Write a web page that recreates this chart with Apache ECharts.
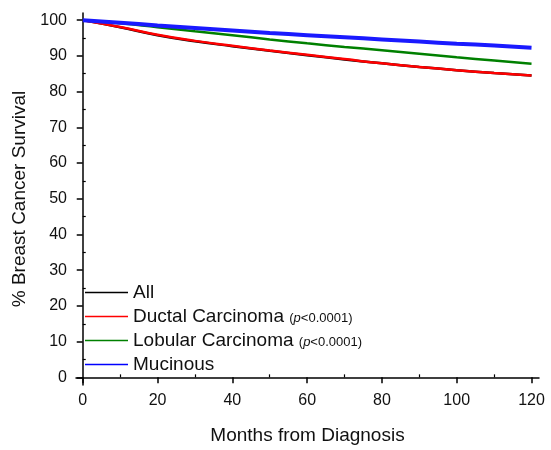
<!DOCTYPE html>
<html>
<head>
<meta charset="utf-8">
<script src="https://cdn.jsdelivr.net/npm/echarts@6/dist/echarts.min.js"></script>
<style>
  html, body { margin: 0; padding: 0; background: #fff; }
  #chart { width: 551px; height: 450px; }
</style>
</head>
<body>
<div id="chart"></div>
<script>
// months since diagnosis
const months = [0, 10, 20, 30, 40, 50, 60, 70, 80, 90, 100, 110, 120];
// % breast cancer survival
const allSurv = [100, 98.0, 95.8, 94.1, 92.7, 91.4, 90.2, 89.0, 87.9, 86.9, 86.0, 85.2, 84.5];
const ductal = [100, 98.1, 95.9, 94.2, 92.8, 91.5, 90.3, 89.1, 87.9, 86.9, 86.0, 85.2, 84.5];
const lobular = [100, 99.1, 98.0, 96.9, 95.8, 94.6, 93.5, 92.5, 91.6, 90.6, 89.6, 88.7, 87.8];
const mucinous = [100, 99.3, 98.5, 97.8, 97.1, 96.4, 95.8, 95.2, 94.6, 94.0, 93.4, 92.9, 92.3];

const xMajor = [0, 20, 40, 60, 80, 100, 120];
const xMinor = [10, 30, 50, 70, 90, 110];
const yMajor = [0, 10, 20, 30, 40, 50, 60, 70, 80, 90, 100];
const yMinor = [5, 15, 25, 35, 45, 55, 65, 75, 85, 95];

const FONT = "Liberation Sans, Arial, sans-serif";
const INK = "#111";

const toPairs = vals => months.map((m, i) => [m, vals[i]]);

const chart = echarts.init(document.getElementById("chart"));

const xBase = { type: "value", min: -1.8, max: 122, gridIndex: 0, splitLine: { show: false } };
const yBase = { type: "value", min: -2.14, max: 102, gridIndex: 0, splitLine: { show: false } };

chart.setOption({
  animation: false,
  textStyle: { fontFamily: FONT },
  grid: { left: 76, right: 12, top: 13, bottom: 63 },
  legend: {
    orient: "vertical",
    left: 85,
    top: 283,
    padding: 0,
    itemWidth: 43,
    itemHeight: 1.5,
    itemGap: 5,
    icon: "rect",
    data: ["All", "Ductal Carcinoma", "Lobular Carcinoma", "Mucinous"],
    formatter: function(name) {
      if (name === "Ductal Carcinoma" || name === "Lobular Carcinoma") {
        return name + " {s|(}{i|p}{s|<0.0001)}";
      }
      return name;
    },
    textStyle: {
      fontSize: 19,
      color: INK,
      fontFamily: FONT,
      rich: {
        s: { fontSize: 13, color: INK, fontFamily: FONT, padding: [4, 0, 0, 0] },
        i: { fontSize: 13, fontStyle: "italic", color: INK, fontFamily: FONT, padding: [4, 0, 0, 0] }
      }
    }
  },
  xAxis: [
    Object.assign({}, xBase, {
      name: "Months from Diagnosis",
      nameLocation: "middle",
      nameGap: 41,
      nameTextStyle: { fontSize: 19, color: INK, fontFamily: FONT },
      axisLine: { show: true, lineStyle: { color: "#000", width: 1.5 } },
      axisTick: { show: true, length: 6, customValues: xMajor, lineStyle: { color: "#000", width: 1.5 } },
      axisLabel: { customValues: xMajor, fontSize: 16, color: INK, margin: 8, fontFamily: FONT }
    }),
    Object.assign({}, xBase, {
      axisLine: { show: false },
      axisTick: { show: true, length: 3, customValues: xMinor, lineStyle: { color: "#000", width: 1.2 } },
      axisLabel: { show: false }
    })
  ],
  yAxis: [
    Object.assign({}, yBase, {
      name: "% Breast Cancer Survival",
      nameLocation: "middle",
      nameGap: 44,
      nameTextStyle: { fontSize: 19, color: INK, fontFamily: FONT },
      axisLine: { show: true, lineStyle: { color: "#000", width: 1.5 } },
      axisTick: { show: true, length: 6, customValues: yMajor, lineStyle: { color: "#000", width: 1.5 } },
      axisLabel: { customValues: yMajor, fontSize: 16, color: INK, margin: 9, fontFamily: FONT }
    }),
    Object.assign({}, yBase, {
      axisLine: { show: false },
      axisTick: { show: true, length: 3, customValues: yMinor, lineStyle: { color: "#000", width: 1.2 } },
      axisLabel: { show: false }
    })
  ],
  series: [
    {
      name: "All", type: "line", smooth: true, symbol: "none",
      data: toPairs(allSurv), color: "#000",
      lineStyle: { width: 2.5, color: "#000" }, z: 2
    },
    {
      name: "Ductal Carcinoma", type: "line", smooth: true, symbol: "none",
      data: toPairs(ductal), color: "#ff0000",
      lineStyle: { width: 2.5, color: "#ff0000" }, z: 3
    },
    {
      name: "Lobular Carcinoma", type: "line", smooth: true, symbol: "none",
      data: toPairs(lobular), color: "#008000",
      lineStyle: { width: 2.5, color: "#008000" }, z: 3
    },
    {
      name: "Mucinous", type: "line", smooth: true, symbol: "none",
      data: toPairs(mucinous), color: "#0000ff",
      lineStyle: { width: 4, color: "#1a1aff" }, z: 4
    }
  ]
});
</script>
</body>
</html>
